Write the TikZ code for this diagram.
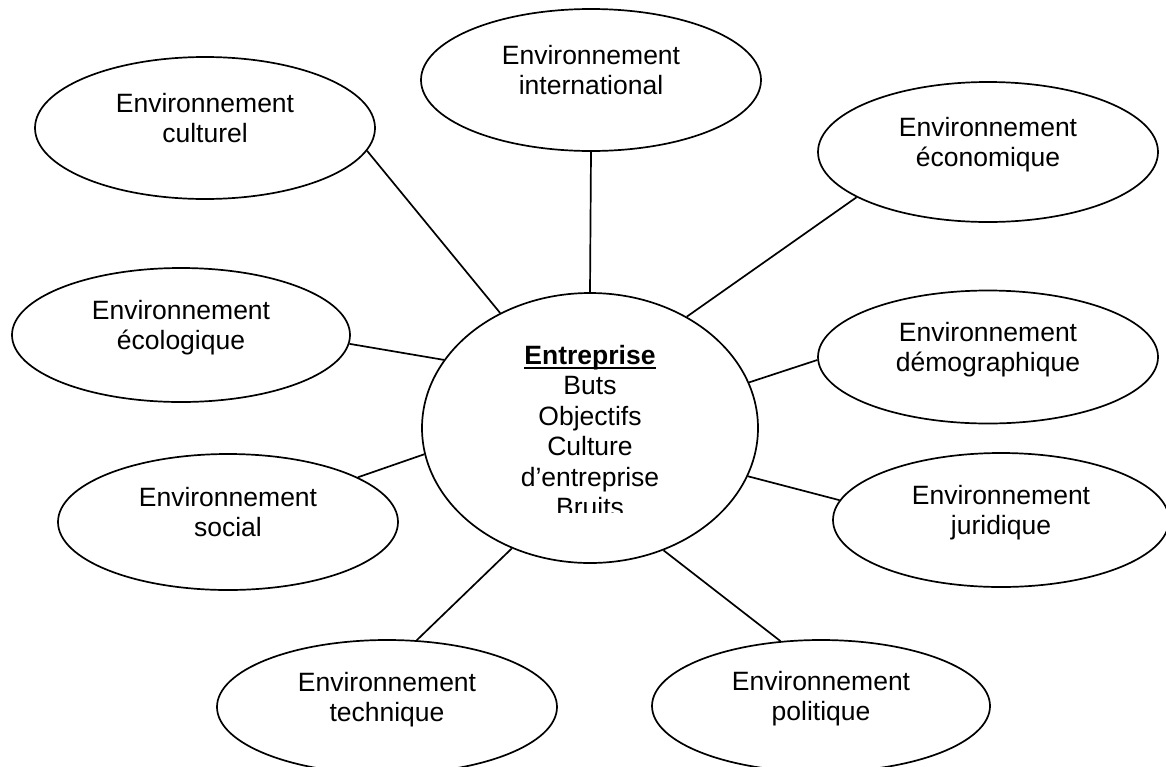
\documentclass[tikz,border=0pt]{standalone}
\usepackage{fontspec}
\setmainfont{Liberation Sans}
\usepackage{tikz}
\usetikzlibrary{shapes.geometric}

\newcommand{\ulbold}[1]{\setbox0\hbox{\bfseries #1}\rlap{\rule[-5pt]{\wd0}{2.4pt}}\box0}

\tikzset{
  env/.style={ellipse, draw, line width=1.7pt, inner sep=0pt},
  envtext/.style={align=center, anchor=north, inner sep=0pt, font=\fontsize{26.5}{30.5}\selectfont},
  link/.style={line width=1.7pt}
}

\begin{document}
\begin{tikzpicture}[x=1pt, y=-1pt]
\useasboundingbox (0,0) rectangle (1166,766);
\clip (0,0) rectangle (1166,766);
% outer ellipses
\foreach \x/\y/\w/\h/\name/\txt in {
205/128/340/142/cult/Environnement\\culturel,
591/80/340/142/intl/Environnement\\international,
988/152/340/140/eco/Environnement\\économique,
988/357/340/133/demo/Environnement\\démographique,
181/335/338/134/ecol/Environnement\\écologique,
228/522/340/136/soc/Environnement\\social,
1001/520/336/134/juri/Environnement\\juridique,
387/707/340/134/tech/Environnement\\technique,
821/706/338/132/pol/Environnement\\politique
}{
\node[env, minimum width=\w pt, minimum height=\h pt] (\name) at (\x,\y) {};
\node[envtext] (\name-txt) at (\x,\y-35) {\txt};
}
% centre
\node[env, minimum width=336pt, minimum height=270pt] (ent) at (590,428) {};
\begin{scope}
\clip (420,300) rectangle (760,512);
\node[envtext] (ent-txt) at (590,345) {\ulbold{Entreprise}\\Buts\\Objectifs\\Culture\\d’entreprise\\Bruits};
\end{scope}
% links
\foreach \a/\b/\c in {128/cult/352, 90/intl/270, 49/eco/199, 16/demo/181, 343/juri/173,
301/pol/122, 237/tech/66, 189/soc/19, 155/ecol/357}
\draw[link] (ent.\a) -- (\b.\c);
\end{tikzpicture}
\end{document}
